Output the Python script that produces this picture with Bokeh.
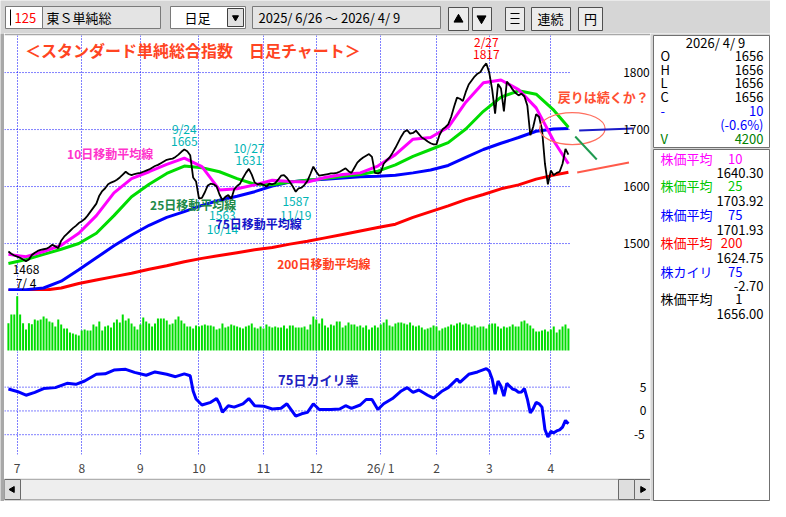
import math
from bokeh.plotting import figure
from bokeh.models import Range1d, LinearAxis, FixedTicker, Grid, Label
from bokeh.layouts import column, row
from bokeh.embed import file_html
from bokeh.resources import INLINE
from bokeh.core.properties import value

# ---------------- data ----------------
code_no = "125"
index_name = "東Ｓ単純総"
period_name = "日足"
first_date = "2025/ 6/26"
last_date = "2026/ 4/ 9"

close = [
    1486, 1482, 1479, 1477, 1475, 1472, 1469, 1472, 1480, 1484,
    1487, 1489, 1490, 1491, 1494, 1498, 1495, 1492, 1505, 1512,
    1517, 1522, 1527, 1531, 1536, 1539, 1543, 1549, 1556, 1563,
    1570, 1584, 1592, 1597, 1604, 1607, 1609, 1612, 1616, 1621,
    1626, 1622, 1620, 1622, 1623, 1624, 1626, 1628, 1630, 1633,
    1636, 1638, 1641, 1644, 1647, 1648, 1649, 1652, 1656, 1661,
    1665, 1662, 1655, 1616, 1609, 1579, 1580, 1590, 1602, 1605,
    1604, 1600, 1586, 1576, 1582, 1585, 1578, 1595, 1601, 1605,
    1615, 1624, 1631, 1621, 1607, 1604, 1605, 1603, 1600, 1605,
    1604, 1606, 1612, 1619, 1620, 1615, 1608, 1600, 1591, 1597,
    1598, 1603, 1610, 1622, 1635, 1626, 1619, 1620, 1621, 1622,
    1623, 1623, 1624, 1626, 1629, 1632, 1627, 1624, 1633, 1642,
    1647, 1651, 1654, 1657, 1652, 1624, 1623, 1625, 1640, 1646,
    1651, 1659, 1668, 1678, 1688, 1696, 1699, 1693, 1694, 1698,
    1692, 1686, 1683, 1679, 1676, 1674, 1674, 1690, 1700, 1704,
    1709, 1722, 1740, 1756, 1754, 1750, 1766, 1779, 1786, 1793,
    1798, 1801, 1810, 1816, 1800, 1770, 1728, 1780, 1772, 1732,
    1784, 1778, 1770, 1764, 1760, 1763, 1758, 1742, 1690, 1705,
    1727, 1722, 1700, 1640, 1604, 1628, 1620, 1624, 1626, 1640,
    1666, 1656,
]
days = list(range(len(close)))

volume = [
    5220, 6870, 6870, 10370, 6870, 5220, 4010, 5220, 5020, 5910,
    5720, 5910, 6490, 6110, 5530, 5340, 4580, 5910, 4960, 4200,
    4200, 3430, 3240, 3050, 2860, 3820, 4010, 3820, 3820, 4960,
    4580, 5530, 3820, 4580, 4770, 4390, 5340, 5910, 5340, 6870,
    5720, 6110, 5150, 4580, 4010, 4960, 6300, 5530, 5150, 4580,
    5150, 6110, 6110, 6110, 5720, 4960, 5150, 5910, 6490, 5720,
    5150, 4580, 4580, 4200, 4770, 4580, 4770, 4960, 4770, 4770,
    4580, 4010, 4200, 5150, 4390, 4580, 4960, 4770, 4580, 4390,
    4200, 4580, 4770, 5150, 4390, 4200, 4580, 4200, 4960, 4580,
    4390, 4580, 4390, 4390, 4770, 4200, 4770, 4770, 4390, 4390,
    4390, 4580, 4010, 4960, 6490, 5910, 5150, 6110, 4770, 4390,
    4960, 4770, 5530, 5530, 4390, 4770, 5340, 4960, 4960, 4580,
    4770, 4390, 4770, 4010, 4390, 4770, 4390, 4960, 5340, 5910,
    4770, 4580, 5150, 5340, 5340, 5150, 4960, 5340, 4770, 4580,
    4770, 4390, 4010, 4200, 4390, 4770, 4580, 3820, 4200, 4390,
    4580, 4960, 4770, 5150, 5340, 4960, 5150, 4960, 4580, 4770,
    4390, 4580, 4580, 4200, 4960, 5150, 5150, 4580, 4200, 4580,
    4390, 4580, 4960, 4580, 4580, 5530, 5720, 5150, 4770, 4200,
    3630, 3630, 3820, 4010, 3630, 4010, 4580, 3430, 4010, 4580,
    4960, 4200,
]

ma_days = [0, 6, 12, 18, 24, 30, 36, 42, 48, 54, 60, 66, 72, 78, 84, 90, 96,
           102, 108, 114, 120, 126, 132, 138, 144, 150, 156, 162, 168, 174,
           180, 186, 191]
ma10 = [1481, 1477, 1486, 1497, 1518, 1549, 1589, 1614, 1626, 1639,
        1650, 1635, 1594, 1596, 1603, 1611, 1609, 1608, 1616, 1621,
        1624, 1636, 1656, 1683, 1686, 1704, 1748, 1782, 1787, 1770,
        1738, 1680, 1640]
ma25 = [1465, 1472, 1481, 1490, 1500, 1518, 1549, 1582, 1604, 1623,
        1636, 1633, 1626, 1614, 1604, 1603, 1608, 1611, 1614, 1618,
        1621, 1627, 1638, 1653, 1665, 1677, 1701, 1732, 1757, 1768,
        1762, 1734, 1704]
ma75 = [1419, 1419, 1422, 1434, 1454, 1475, 1496, 1515, 1532, 1546,
        1556, 1567, 1576, 1583, 1591, 1601, 1608, 1611, 1613, 1615,
        1617, 1618, 1620, 1624, 1629, 1637, 1651, 1665, 1676, 1686,
        1697, 1701, 1702]
ma200 = [1417, 1417, 1418, 1422, 1430, 1436, 1442, 1448, 1455, 1461,
         1468, 1474, 1479, 1484, 1489, 1493, 1499, 1504, 1510, 1516,
         1522, 1528, 1534, 1546, 1556, 1566, 1577, 1586, 1596, 1603,
         1613, 1620, 1625]

kairi_days = [0, 3, 6, 9, 12, 16, 20, 23, 26, 30,
              33, 36, 40, 43, 47, 50, 54, 57, 60, 62,
              63, 64, 66, 69, 71, 72, 73, 75, 77, 80,
              82, 84, 87, 90, 93, 95, 98, 100, 102, 104,
              106, 110, 113, 115, 117, 120, 122, 124, 126, 128,
              131, 134, 136, 138, 140, 143, 145, 148, 150, 153,
              154, 157, 160, 163, 164, 165, 166, 167, 168, 169,
              170, 171, 172, 173, 174, 175, 176, 177, 178, 179,
              180, 181, 182, 183, 184, 185, 186, 187, 188, 189,
              190, 191]
kairi75 = [4.6, 4.1, 3.3, 3.9, 4.7, 4.9, 5.8, 5.6, 6.3, 7.7,
           7.8, 8.6, 8.75, 8.1, 7.5, 8.2, 7.7, 7.2, 7.8, 7.4,
           4.2, 2.5, 1.25, 1.8, 2.6, 1.5, -0.3, 1.1, 0.8, 1.5,
           2.6, 1.1, 1.0, 0.4, 0.55, 1.5, -1.1, -0.6, -0.3, 1.5,
           0.3, 0.3, 0.4, 1.1, 0.55, 1.25, 2.4, 2.4, 0.3, 1.5,
           2.6, 4.2, 4.9, 3.9, 4.4, 3.3, 2.7, 4.2, 4.9, 6.7,
           6.0, 7.7, 8.2, 8.9, 8.4, 6.7, 3.5, 6.3, 5.2, 3.1,
           5.8, 5.2, 4.6, 4.4, 3.9, 4.0, 4.7, 2.5, -0.4, 0.5,
           1.8, 1.5, 0.8, -3.9, -5.5, -4.3, -4.6, -4.2, -4.0, -3.4,
           -2.0, -2.7]

month_days = [3, 25, 45, 65, 87, 105, 127, 146, 164, 185]
month_labels = ["7", "8", "9", "10", "11", "12", "26/ 1", "2", "3", "4"]
price_ticks = [1500, 1600, 1700, 1800]
kairi_ticks = [-5, 0, 5]

extreme_days = [60, 82, 163, 73, 98, 6]
extreme_dates = ["9/24", "10/27", "2/27", "10/14", "11/19", "7/ 4"]
extreme_values = [1665, 1631, 1817, 1563, 1587, 1468]
extreme_high = [True, True, True, False, False, False]

ma_periods = [10, 25, 75, 200]
ma_last = [1640.30, 1703.92, 1701.93, 1624.75]
ohlc_names = ["O", "H", "L", "C"]
ohlc_last = [1656, 1656, 1656, 1656]
change_last = -10
change_pct_last = -0.6
volume_last = 4200
kairi_period = 75
kairi_last = -2.70
avg1_last = 1656.00

# ---------------- styling / layout ----------------
FONT = "Noto Sans CJK JP"
GRAY = "#d6d6d6"
DOT = "#0000ff"
CYAN = "#00b4b4"


def ix(px):            # reference pixel column -> trading-day index
    return (px - 8) / 3.0


def py(px):            # reference pixel row -> price
    return 1800 - (px - 76) / 0.57


PPX = 0.57            # pixels per price point
xr = Range1d(ix(4), ix(665))
GX0, GX1 = ix(4), ix(583)


def base_fig(h, yr, **kw):
    f = figure(width=646, height=h, x_range=xr, y_range=yr, toolbar_location=None,
               output_backend="svg", x_axis_location=None, y_axis_location=None,
               min_border=0, outline_line_color=None, **kw)
    f.grid.visible = False
    f.background_fill_color = "white"
    f.border_fill_color = "white"
    f.add_layout(Grid(dimension=0, ticker=FixedTicker(ticks=month_days),
                      grid_line_color=DOT, grid_line_dash="1 2", grid_line_width=1))
    return f


def hgrid(f, ticks):
    f.segment(x0=[GX0] * len(ticks), x1=[GX1] * len(ticks), y0=ticks, y1=ticks,
              line_color=DOT, line_dash="1 2", line_width=1)


def right_labels(f, ticks, xpos, overrides=None):
    ax = LinearAxis(fixed_location=xpos, ticker=FixedTicker(ticks=ticks))
    ax.axis_line_color = None
    ax.major_tick_line_color = None
    ax.minor_tick_line_color = None
    ax.major_tick_out = 0
    ax.major_tick_in = 0
    ax.major_label_standoff = 0
    ax.major_label_text_font = FONT
    ax.major_label_text_font_size = "12px"
    ax.major_label_text_color = "black"
    if overrides:
        ax.major_label_overrides = overrides
    f.add_layout(ax, "right")


def label(f, x, y, text, color, size="12px", bold=False, align="center"):
    f.add_layout(Label(x=x, y=y, text=text, text_color=color, text_font=FONT,
                       text_font_size=size, text_font_style="bold" if bold else "normal",
                       text_align=align, text_baseline="middle"))


# ---- price panel ----
pf = base_fig(258, Range1d(1865 - 256 / PPX, 1865), min_border_top=2)
pf.border_fill_color = "#a8a8a8"
hgrid(pf, price_ticks)
right_labels(pf, price_ticks, ix(637))

pf.line(ma_days, ma200, line_color="#ff0000", line_width=3)
pf.line(ma_days, ma75, line_color="#0000ff", line_width=3)
pf.line(ma_days, ma25, line_color="#00dd00", line_width=3)
pf.line(ma_days, ma10, line_color="#ff00ff", line_width=3)
pf.line(days, close, line_color="black", line_width=1.8)

ext_colors = [CYAN, CYAN, "#ff0000", CYAN, CYAN, "black"]
for d, dt, v, hi, c in zip(extreme_days, extreme_dates, extreme_values, extreme_high, ext_colors):
    s = 1 if hi else -1
    label(pf, d, v + s * 8 / PPX, str(v), c)
    label(pf, d, v + s * 21 / PPX, dt, c)

label(pf, ix(25), py(53), "＜スタンダード単純総合指数　日足チャート＞", "#ff4422", "16px", True, "left")
label(pf, ix(68), py(157), f"{ma_periods[0]}日移動平均線", "#ff33cc", "12px", True, "left")
label(pf, ix(153), py(208), f"{ma_periods[1]}日移動平均線", "#208a48", "12px", True, "left")
label(pf, ix(220), py(227), f"{ma_periods[2]}日移動平均線", "#1414c8", "12px", True, "left")
label(pf, ix(283), py(267), f"{ma_periods[3]}日移動平均線", "#ff4020", "12px", True, "left")
label(pf, ix(570), py(100), "戻りは続くか？", "#ff5033", "13px", True, "left")

pf.ellipse(x=ix(585), y=py(132), width=67 / 3.0, height=32 / PPX,
           fill_color=None, line_color="#ff6f5f", line_width=1.2)
pf.line([ix(592), ix(647)], [py(134), py(132)], line_color="#1c1cc8", line_width=2)
pf.line([ix(588), ix(610)], [py(140), py(163)], line_color="#1f9a50", line_width=2)
pf.line([ix(590), ix(643)], [py(176), py(166)], line_color="#ff5a4a", line_width=2)

# ---- volume panel ----
VPX = 22.0 / volume_last
vf = base_fig(60, Range1d(-1 / VPX, -1 / VPX + 60 / VPX))
vf.vbar(x=days, top=volume, bottom=0, width=0.68, fill_color="#00dd00", line_color=None)

# ---- kairi panel ----
KPX = 4.8
kf = base_fig(127, Range1d(12.5 - 104 / KPX, 12.5), min_border_bottom=23)
hgrid(kf, kairi_ticks)
right_labels(kf, [0, 5], ix(654))
right_labels(kf, [-5], ix(648), {-5: "-5"})
kf.line(kairi_days, kairi75, line_color="#0000ff", line_width=3)
label(kf, ix(325), 6.7, f"{kairi_period}日カイリ率", "#2020c0", "13px", True)
xax = LinearAxis(ticker=FixedTicker(ticks=month_days),
                 major_label_overrides={d: t for d, t in zip(month_days, month_labels)})
xax.axis_line_color = None
xax.major_tick_line_color = None
xax.minor_tick_line_color = None
xax.major_tick_out = 0
xax.major_label_standoff = 4
xax.major_label_text_font = FONT
xax.major_label_text_font_size = "12px"
kf.add_layout(xax, "below")

# ---- scroll bar ----
sc = figure(width=646, height=23, x_range=Range1d(0, 646), y_range=Range1d(23, 0),
            toolbar_location=None, output_backend="svg", x_axis_location=None,
            y_axis_location=None, min_border=0, outline_line_color=None)
sc.grid.visible = False
sc.background_fill_color = GRAY
sc.border_fill_color = GRAY
sc.quad(left=0, right=646, top=1, bottom=21, fill_color="#eeeeee", line_color="#b0b0b0")
sc.quad(left=[0, 614, 630], right=[16, 630, 646], top=1, bottom=21,
        fill_color="#dedede", line_color="#6a6a6a")
sc.scatter(x=[8, 638], y=[11, 11], marker="triangle", angle=[math.pi / 2, -math.pi / 2],
           size=6, color="black")

# ---- left strip ----
strip = figure(width=4, height=468, toolbar_location=None, output_backend="svg",
               x_axis_location=None, y_axis_location=None, min_border=0,
               outline_line_color=None)
strip.grid.visible = False
strip.background_fill_color = "#a8a8a8"
strip.border_fill_color = "#a8a8a8"

# ---- toolbar ----
tb = figure(width=770, height=33, x_range=Range1d(0, 770), y_range=Range1d(33, 0),
            toolbar_location=None, output_backend="svg", x_axis_location=None,
            y_axis_location=None, min_border=0, outline_line_color=None)
tb.grid.visible = False
tb.background_fill_color = GRAY
tb.border_fill_color = GRAY
tb.quad(left=[5, 42, 170, 252], right=[42, 160, 245, 440], top=6, bottom=28,
        fill_color=["white", "#e4e4e4", "white", "#e4e4e4"], line_color="#7a7a7a")
tb.quad(left=[227], right=[243], top=[8], bottom=[26], fill_color="#e0e0e0", line_color="#404040")
tb.quad(left=[448, 472, 505, 531, 578], right=[468, 491, 524, 570, 602], top=7, bottom=30,
        fill_color="#ececec", line_color="#505050")
tb.segment(x0=[10], x1=[10], y0=[9], y1=[25], line_color="black", line_width=1)
tb.segment(x0=[510, 510, 510], x1=[519, 519, 519], y0=[13, 18, 23], y1=[13, 18, 23],
           line_color="black", line_width=1)
tb.scatter(x=[458], y=[19], marker="triangle", size=9, color="black")
tb.scatter(x=[481, 235], y=[18, 17], marker="inverted_triangle", size=[9, 6], color="black")
tb.text(x=[14], y=[17], text=[code_no], text_color="#ff0000", text_font=value(FONT),
        text_font_size="13px", text_baseline="middle")
tb.text(x=[46, 184, 258], y=[17, 17, 17],
        text=[index_name, period_name, f"{first_date} ～ {last_date}"],
        text_color="black", text_font=value(FONT), text_font_size="13px", text_baseline="middle")
tb.text(x=[550, 590], y=[18, 18], text=["連続", "円"], text_color="black",
        text_font=value(FONT), text_font_size="13px", text_baseline="middle", text_align="center")

# ---- side info panel ----
sp = figure(width=120, height=468, x_range=Range1d(0, 120), y_range=Range1d(468, 0),
            toolbar_location=None, output_backend="svg", x_axis_location=None,
            y_axis_location=None, min_border=0, outline_line_color=None)
sp.grid.visible = False
sp.background_fill_color = GRAY
sp.border_fill_color = GRAY
sp.quad(left=[3, 3], right=[119, 119], top=[2, 116], bottom=[114, 467],
        fill_color="white", line_color="#707070")

BLUE, MAG, GRN, RED, DGRN = "#0000ff", "#ff00ff", "#00c800", "#ff0000", "#008000"


def stext(xs, ys, texts, colors, align):
    sp.text(x=xs, y=ys, text=texts, text_color=colors, text_font=value(FONT),
            text_font_size="13px", text_baseline="middle", text_align=align)


stext([65], [9], [last_date], ["black"], "center")
left_t = ohlc_names + ["-", "V"]
left_y = [22, 36, 49, 63, 77, 105]
left_c = ["black"] * 4 + [BLUE, DGRN]
stext([10] * len(left_t), left_y, left_t, left_c, "left")
right_t = [str(v) for v in ohlc_last] + [str(abs(change_last)), f"({change_pct_last:.1f}%)", str(volume_last)]
right_y = [22, 36, 49, 63, 77, 91, 105]
right_c = ["black"] * 4 + [BLUE, BLUE, DGRN]
stext([113] * len(right_t), right_y, right_t, right_c, "right")

ind_names = ["株価平均"] * 4 + ["株カイリ", "株価平均"]
ind_periods = [str(p) for p in ma_periods] + [str(kairi_period), "1"]
ind_vals = [f"{v:.2f}" for v in ma_last] + [f"{kairi_last:.2f}", f"{avg1_last:.2f}"]
ind_colors = [MAG, GRN, BLUE, RED, BLUE, "black"]
name_y = [125, 152, 181, 209, 238, 265]
val_y = [139, 167, 196, 224, 252, 280]
stext([10] * 6, name_y, ind_names, ind_colors, "left")
stext([92] * 6, name_y, ind_periods, ind_colors, "right")
stext([113] * 6, val_y, ind_vals, ["black"] * 6, "right")

layout = column(tb, row(strip, column(pf, vf, kf, sc), sp))

open("out.html", "w").write(file_html(layout, INLINE))
